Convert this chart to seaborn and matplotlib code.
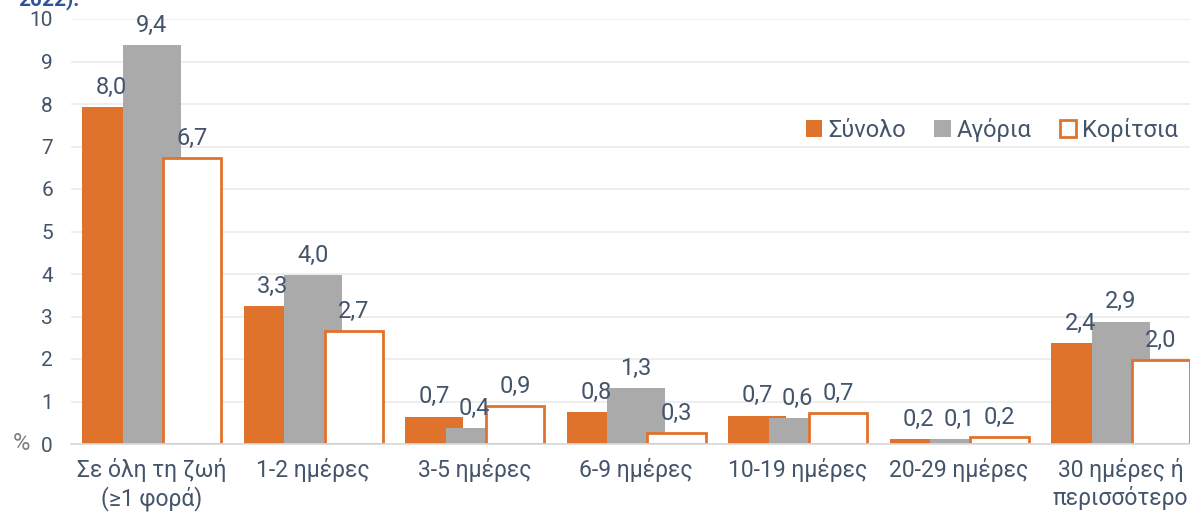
import matplotlib
matplotlib.use('Agg')
import matplotlib.pyplot as plt
import seaborn as sns
import pandas as pd

sns.set_theme(style='white')
plt.rcParams['font.family'] = ['Roboto', 'DejaVu Sans']

# Δεδομένα (%) — ύψη όπως φαίνονται στο γράφημα, ετικέτες όπως τυπώνονται
categories = ['Σε όλη τη ζωή\n(≥1 φορά)', '1-2 ημέρες', '3-5 ημέρες', '6-9 ημέρες',
              '10-19 ημέρες', '20-29 ημέρες', '30 ημέρες ή\nπερισσότερο']
groups = ['Σύνολο', 'Αγόρια', 'Κορίτσια']
total_vals = [7.93, 3.25, 0.64, 0.75, 0.67, 0.12, 2.38]
boys_vals = [9.39, 3.98, 0.38, 1.32, 0.61, 0.11, 2.88]
girls_vals = [6.72, 2.66, 0.89, 0.26, 0.73, 0.16, 1.98]
total_labels = ['8,0', '3,3', '0,7', '0,8', '0,7', '0,2', '2,4']
boys_labels = ['9,4', '4,0', '0,4', '1,3', '0,6', '0,1', '2,9']
girls_labels = ['6,7', '2,7', '0,9', '0,3', '0,7', '0,2', '2,0']

ORANGE = '#E0732C'
GREY = '#AAAAAB'
TXT = '#44546A'

df = pd.DataFrame({
    'cat': categories * 3,
    'group': [groups[0]] * 7 + [groups[1]] * 7 + [groups[2]] * 7,
    'val': total_vals + boys_vals + girls_vals,
})

fig = plt.figure(figsize=(11.9, 5.19), dpi=100)
ax = fig.add_axes([71 / 1190, 75 / 519, 1 - 71 / 1190, 425 / 519])

sns.barplot(data=df, x='cat', y='val', hue='group', hue_order=groups,
            palette={groups[0]: ORANGE, groups[1]: GREY, groups[2]: 'white'},
            saturation=1, width=0.75, errorbar=None, legend=False, ax=ax)

# πιο φαρδιές μπάρες που επικαλύπτονται (όπως στο Excel)
bw = 0.36
all_labels = [total_labels, boys_labels, girls_labels]
for i, cont in enumerate(ax.containers):
    for j, p in enumerate(cont.patches):
        c = p.get_x() + p.get_width() / 2
        p.set_width(bw)
        p.set_x(c - bw / 2)
        if i == 2:
            p.set_facecolor('white')
            p.set_edgecolor(ORANGE)
            p.set_linewidth(2.0)
        else:
            p.set_linewidth(0)
        ax.annotate(all_labels[i][j], (c, p.get_height()), xytext=(0, 6),
                    textcoords='offset points', ha='center', va='bottom',
                    fontsize=17, color=TXT, clip_on=False)

ax.set_ylim(0, 10)
ax.set_xlim(-0.5, 6.43)
ax.set_yticks(range(0, 11))
ax.yaxis.grid(True, color='#EBEBEB', linewidth=1.2)
ax.set_axisbelow(True)
for s in ['top', 'right', 'left']:
    ax.spines[s].set_visible(False)
ax.spines['bottom'].set_color('#D9D9D9')
ax.spines['bottom'].set_linewidth(1.2)
ax.tick_params(axis='y', length=0, labelsize=15, labelcolor=TXT, pad=13)
ax.tick_params(axis='x', length=0, labelsize=16.5, labelcolor=TXT, pad=10)
ax.set_xlabel('')
ax.set_ylabel('')
ax.text(-41 / 1119, 0, '%', transform=ax.transAxes, ha='right', va='center',
        fontsize=17, color='#808080')

handles = [ax.containers[k].patches[0] for k in range(3)]
ax.legend(handles, groups, loc='center right', bbox_to_anchor=(1.0, 0.739), ncol=3,
          frameon=False, fontsize=17, labelcolor=TXT, handlelength=0.7, handleheight=0.7,
          handletextpad=0.25, columnspacing=1.2, borderaxespad=0.1)

fig.text(18 / 1190, 1 - 5 / 519, '2022).', ha='left', va='baseline', fontsize=15,
         color='#2F5597', fontweight='bold')

fig.savefig('out.png', dpi=100)
